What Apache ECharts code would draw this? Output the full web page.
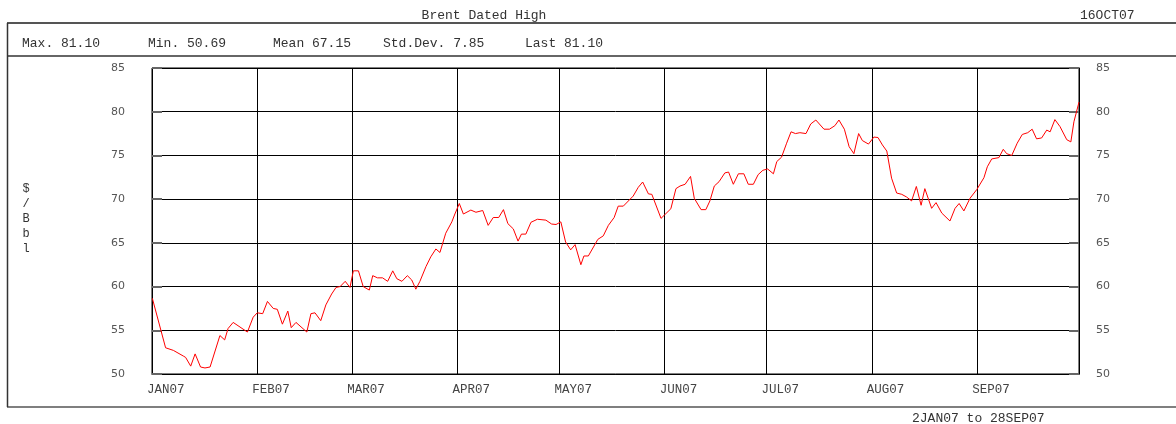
<!DOCTYPE html>
<html>
<head>
<meta charset="utf-8">
<script src="https://cdn.jsdelivr.net/npm/echarts@6/dist/echarts.min.js"></script>
<style>
  html, body { margin: 0; padding: 0; background: #fff; }
  #chart { width: 1176px; height: 424px; }
</style>
</head>
<body>
<div id="chart"></div>
<script>
// days since 1 Jan 2007 of each plotted quote
const dayOffsets = [
  0.1, 4.0, 6.3, 9.2, 9.9, 11.4, 12.7, 14.3, 15.6, 17.1,
  20.0, 21.4, 22.4, 23.9, 28.1, 29.8, 31.0, 32.6, 34.0, 35.7,
  36.9, 38.4, 40.0, 41.0, 42.4, 45.6, 46.8, 48.0, 49.7, 51.2,
  52.9, 54.2, 55.4, 56.9, 58.3, 59.3, 60.8, 62.2, 64.0, 65.0,
  66.4, 67.9, 69.4, 70.9, 72.1, 73.6, 75.2, 76.5, 77.7, 78.9,
  80.7, 82.1, 83.6, 84.8, 86.5, 88.3, 89.2, 90.5, 91.7, 93.9,
  95.4, 97.4, 99.0, 100.5, 102.1, 103.5, 104.8, 106.4, 107.8, 108.8,
  110.1, 111.6, 113.5, 116.0, 117.7, 119.0, 120.4, 121.8, 123.3, 124.6,
  126.3, 127.2, 128.5, 131.3, 132.9, 134.4, 136.1, 137.3, 138.8, 141.7,
  143.2, 144.5, 146.2, 147.2, 149.9, 152.8, 154.3, 155.5, 157.0, 158.6,
  159.7, 161.7, 163.1, 164.3, 165.6, 167.0, 168.7, 169.8, 171.2, 172.7,
  174.3, 175.6, 177.1, 178.5, 179.9, 181.3, 183.0, 184.0, 185.4, 186.9,
  188.2, 189.5, 190.8, 192.6, 194.0, 195.5, 197.9, 199.5, 201.1, 202.3,
  203.9, 205.3, 206.7, 208.1, 209.2, 211.0, 212.6, 213.8, 215.1, 216.4,
  217.8, 219.3, 220.8, 222.2, 223.7, 225.1, 226.5, 227.6, 229.6, 230.9,
  232.6, 235.0, 236.5, 237.7, 239.1, 240.9, 242.9, 245.0, 246.0, 247.3,
  249.4, 250.7, 251.7, 253.2, 254.8, 256.3, 257.9, 259.2, 260.5, 262.0,
  263.5, 264.5, 265.9, 267.4, 269.4, 270.6, 271.5, 273.0
];

// Brent dated high, $/bbl
const prices = [
  58.66, 53.0, 52.7, 52.06, 51.9, 50.9, 52.3, 50.8, 50.69, 50.8,
  54.4, 53.9, 55.2, 55.9, 54.8, 56.5, 57.0, 56.9, 58.3, 57.5,
  57.4, 55.7, 57.2, 55.3, 55.9, 54.8, 56.9, 57.0, 56.1, 57.9,
  59.15, 59.9, 60.0, 60.6, 59.9, 61.8, 61.8, 60.0, 59.6, 61.25,
  61.0, 61.0, 60.6, 61.8, 60.9, 60.6, 61.25, 60.75, 59.7, 60.6,
  62.3, 63.4, 64.3, 63.9, 66.1, 67.4, 68.3, 69.5, 68.3, 68.75,
  68.5, 68.7, 67.0, 67.9, 67.9, 68.8, 67.2, 66.6, 65.2, 66.0,
  66.0, 67.35, 67.7, 67.6, 67.15, 67.1, 67.4, 65.1, 64.2, 64.8,
  62.5, 63.5, 63.5, 65.4, 65.8, 67.0, 67.9, 69.2, 69.2, 70.35,
  71.35, 71.96, 70.6, 70.55, 67.8, 68.9, 71.2, 71.5, 71.7, 72.6,
  70.1, 68.8, 68.8, 69.8, 71.5, 72.0, 73.0, 73.1, 71.7, 72.9,
  72.9, 71.7, 71.7, 72.8, 73.3, 73.45, 72.9, 74.3, 74.8, 76.4,
  77.7, 77.5, 77.6, 77.5, 78.6, 79.05, 78.0, 78.0, 78.4, 79.05,
  78.0, 76.0, 75.2, 77.5, 76.7, 76.3, 77.1, 77.05, 76.2, 75.5,
  72.4, 70.7, 70.55, 70.25, 69.8, 71.45, 69.3, 71.2, 68.95, 69.6,
  68.4, 67.5, 68.95, 69.5, 68.65, 70.1, 71.1, 72.45, 73.7, 74.6,
  74.75, 75.7, 75.2, 75.0, 76.4, 77.4, 77.6, 78.0, 76.9, 77.0,
  77.9, 77.7, 79.1, 78.3, 76.8, 76.55, 78.85, 81.1
];

const monthLabels = ["JAN07", "FEB07", "MAR07", "APR07", "MAY07", "JUN07", "JUL07", "AUG07", "SEP07"];
const statTexts = ["Max. 81.10", "Min. 50.69", "Mean 67.15", "Std.Dev. 7.85", "Last 81.10"];
const titleText = "Brent Dated High";
const runDate = "16OCT07";
const rangeText = "2JAN07 to 28SEP07";
const unitText = "$/Bbl";

// month starts as day offsets from 1 Jan 2007
const DAY = 86400000;
const start = Date.UTC(2007, 0, 1);
const monthStarts = monthLabels.map((m, i) => Math.round((Date.UTC(2007, i, 1) - start) / DAY));
const axisEnd = Math.round((Date.UTC(2007, 9, 1) - start) / DAY);
const seriesData = dayOffsets.map((d, i) => [d, prices[i]]);

const mono = "Liberation Mono";
const textCol = "#333";
const statX = [22, 148, 273, 383, 525];

const graphics = [
  // frame
  { type: "line", shape: { x1: 7, y1: 23, x2: 1180, y2: 23 }, style: { stroke: "#555", lineWidth: 2 } },
  { type: "line", shape: { x1: 7, y1: 56, x2: 1180, y2: 56 }, style: { stroke: "#333", lineWidth: 1.5 } },
  { type: "line", shape: { x1: 7, y1: 407, x2: 1180, y2: 407 }, style: { stroke: "#555", lineWidth: 1.5 } },
  { type: "line", shape: { x1: 7.5, y1: 23, x2: 7.5, y2: 407 }, style: { stroke: "#333", lineWidth: 1.5 } },
  { type: "text", x: 484, y: 16, style: { text: titleText, font: "13px " + mono, fill: textCol, align: "center", verticalAlign: "middle" } },
  { type: "text", x: 1080, y: 16, style: { text: runDate, font: "13px " + mono, fill: textCol, verticalAlign: "middle" } },
  { type: "text", x: 912, y: 419, style: { text: rangeText, font: "13px " + mono, fill: textCol, verticalAlign: "middle" } },
  { type: "text", x: 26, y: 181, style: { text: unitText.split("").join("\n"), font: "12px " + mono, fill: textCol, align: "center", lineHeight: 15 } }
];
statTexts.forEach((t, i) => {
  graphics.push({ type: "text", x: statX[i], y: 44, style: { text: t, font: "13px " + mono, fill: textCol, verticalAlign: "middle" } });
});

const yLabel = { color: "#555", fontFamily: "DejaVu Sans", fontSize: 11 };

const chart = echarts.init(document.getElementById("chart"));
chart.setOption({
  animation: false,
  backgroundColor: "#fff",
  grid: { left: 152, top: 68, width: 927, height: 306, show: true, borderColor: "#000", borderWidth: 1 },
  xAxis: {
    type: "value",
    min: 0,
    max: axisEnd,
    axisLine: { lineStyle: { color: "#000" } },
    axisTick: { show: false, customValues: monthStarts },
    splitLine: { show: true, lineStyle: { color: "#000", width: 1 } },
    axisLabel: {
      customValues: monthStarts,
      formatter: (v) => monthLabels[monthStarts.indexOf(Math.round(v))],
      fontFamily: mono, fontSize: 12.5, color: "#444",
      align: "left", padding: [0, 0, 0, -5], margin: 9,
      showMinLabel: true
    }
  },
  yAxis: [
    {
      type: "value", min: 50, max: 85, interval: 5, position: "left",
      axisLine: { show: true, lineStyle: { color: "#000" } },
      axisTick: { show: true, inside: true, length: 10, lineStyle: { color: "#666", width: 2 } },
      splitLine: { show: true, lineStyle: { color: "#000", width: 1 } },
      axisLabel: Object.assign({ margin: 27 }, yLabel)
    },
    {
      type: "value", min: 50, max: 85, interval: 5, position: "right",
      axisLine: { show: true, lineStyle: { color: "#000" } },
      axisTick: { show: true, inside: true, length: 10, lineStyle: { color: "#666", width: 2 } },
      splitLine: { show: false },
      axisLabel: Object.assign({ margin: 17 }, yLabel)
    }
  ],
  series: [{
    type: "line",
    data: seriesData,
    showSymbol: false,
    symbol: "none",
    lineStyle: { color: "#ff0000", width: 1 },
    silent: true
  }],
  graphic: graphics
});
</script>
</body>
</html>
